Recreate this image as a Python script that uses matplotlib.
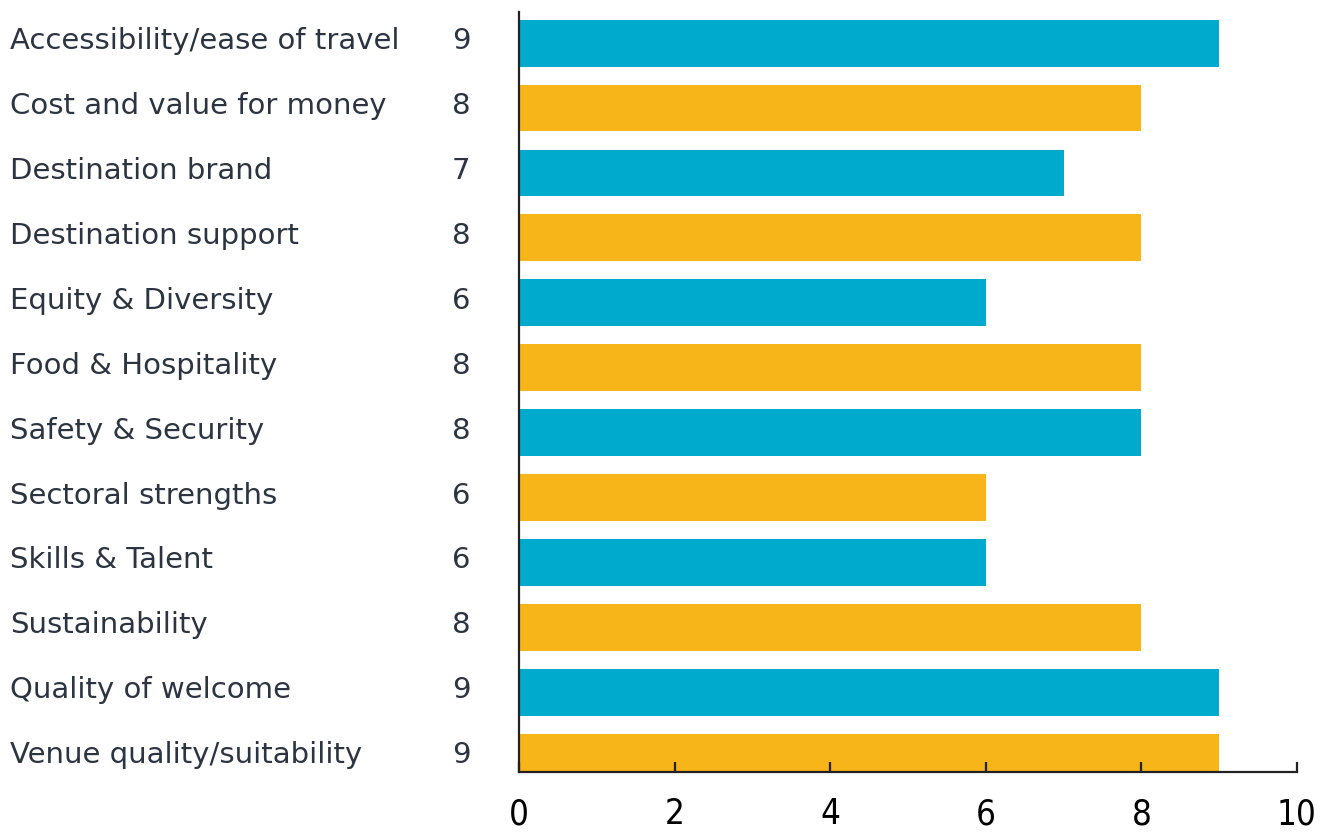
import matplotlib.pyplot as plt
import matplotlib.transforms as mtransforms

# Data
categories = [
    "Accessibility/ease of travel",
    "Cost and value for money",
    "Destination brand",
    "Destination support",
    "Equity & Diversity",
    "Food & Hospitality",
    "Safety & Security",
    "Sectoral strengths",
    "Skills & Talent",
    "Sustainability",
    "Quality of welcome",
    "Venue quality/suitability",
]
scores = [9, 8, 7, 8, 6, 8, 8, 6, 6, 8, 9, 9]
x_ticks = [0, 2, 4, 6, 8, 10]

teal = "#00aacd"
yellow = "#f7b519"
text_color = "#2b3440"

fig = plt.figure(figsize=(13.29, 8.33), dpi=100)
ax = fig.add_axes([0.3905, 0.0732, 0.5854, 0.9124])

positions = list(range(len(categories)))
colors = [teal if i % 2 == 0 else yellow for i in positions]
ax.barh(positions, scores, height=0.72, color=colors, zorder=1)

ax.set_xlim(0, 10)
ax.set_ylim(11.23, -0.48)

# spines: only left and bottom
for side in ["top", "right"]:
    ax.spines[side].set_visible(False)
for side in ["left", "bottom"]:
    ax.spines[side].set_linewidth(1.6)
    ax.spines[side].set_color("#222222")
    ax.spines[side].set_zorder(3)

ax.set_yticks([])
ax.set_xticks(x_ticks)
ax.set_xticklabels([str(t) for t in x_ticks], family="DejaVu Sans",
                   fontstretch="condensed", fontsize=25)
ax.tick_params(axis="x", direction="in", length=7, width=1.6, color="#222222", pad=18)
# taller end tick at 10
ax.set_xticks([10], minor=True)
ax.tick_params(axis="x", which="minor", direction="in", length=18, width=1.6, color="#222222")

# category names and values on the left
trans = mtransforms.blended_transform_factory(fig.transFigure, ax.transData)
for pos, name, val in zip(positions, categories, scores):
    ax.text(0.0075, pos - 0.03, name, transform=trans, ha="left", va="center",
            fontsize=21, color=text_color, family="DejaVu Sans")
    ax.text(0.347, pos - 0.03, str(val), transform=trans, ha="center", va="center",
            fontsize=21, color=text_color, family="DejaVu Sans")

fig.savefig("out.png", dpi=100)
